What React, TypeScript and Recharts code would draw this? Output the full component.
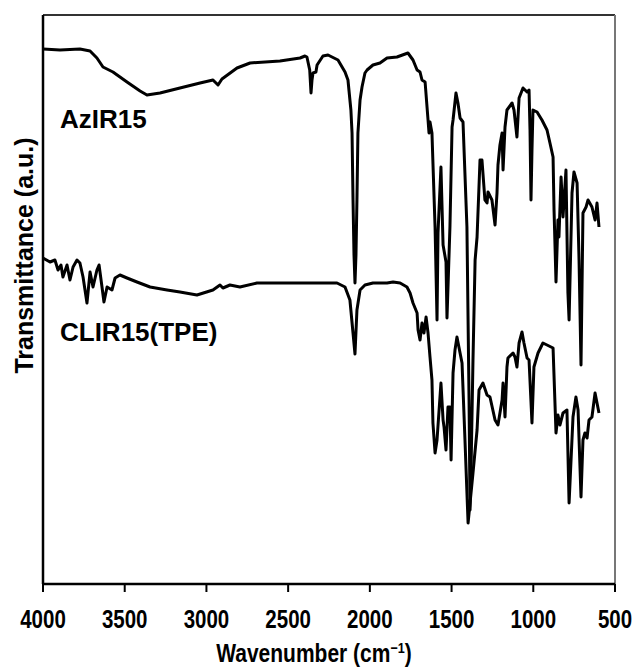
import React from 'react';
import { LineChart, Line, XAxis, YAxis, ReferenceLine, ReferenceDot } from 'recharts';

// AzIR15 spectrum (wavenumber, transmittance a.u.)
const azirWavenumber = [
  4000, 3896, 3774, 3712, 3670, 3633, 3572, 3486, 3406, 3364, 3284, 3162, 3039, 2960, 2929, 2905,
  2813, 2733, 2550, 2427, 2397, 2385, 2368, 2360, 2354, 2348, 2330, 2323, 2287, 2256, 2195, 2152,
  2134, 2116, 2109, 2103, 2097, 2091, 2085, 2079, 2073, 2060, 2048, 2030, 2017, 1981, 1938, 1895,
  1834, 1767, 1736, 1711, 1693, 1681, 1662, 1644, 1638, 1632, 1620, 1601, 1589, 1583, 1565, 1552,
  1534, 1528, 1510, 1497, 1491, 1473, 1461, 1448, 1430, 1406, 1393, 1387, 1381, 1369, 1356, 1344,
  1326, 1314, 1296, 1283, 1277, 1253, 1234, 1222, 1216, 1204, 1191, 1185, 1173, 1161, 1130, 1118,
  1100, 1087, 1063, 1038, 1026, 1020, 1014, 1008, 1002, 977, 947, 916, 898, 879, 873, 861,
  849, 843, 830, 818, 800, 788, 781, 763, 751, 732, 720, 708, 696, 677, 665, 641,
  622, 610, 598,
];
const azirTransmittance = [
  53.5, 53.4, 53.5, 53.3, 52.6, 51.7, 51.2, 50.2, 49.3, 48.9, 49.1, 49.6, 50.1, 50.4, 49.9, 50.5,
  51.6, 52.1, 52.3, 52.6, 52.8, 52.7, 51.4, 49.1, 50.4, 51.1, 51.2, 51.9, 52.8, 52.9, 52.4, 51.2,
  50.4, 47.4, 45.1, 38.4, 32.9, 30.1, 32.9, 38.4, 45.1, 48.4, 49.7, 51.1, 51.4, 51.9, 52.1, 52.6,
  52.7, 53.1, 52.4, 51.4, 51.2, 50.4, 50.2, 46.4, 45.1, 46.2, 45.1, 35.7, 26.4, 35.1, 41.7, 33.9,
  32.2, 26.6, 35.7, 45.7, 46.4, 49.1, 48.1, 46.6, 46.2, 35.7, 18.4, 7.4, 11.4, 22.4, 32.4, 34.7,
  42.4, 42.4, 38.4, 38.1, 39.2, 38.4, 35.9, 39.1, 41.9, 43.9, 45.1, 41.4, 45.7, 47.4, 48.1, 47.4,
  44.7, 48.6, 49.6, 49.2, 49.4, 45.4, 38.4, 43.4, 47.4, 47.2, 46.4, 45.4, 44.1, 42.7, 37.4, 30.2,
  36.4, 34.7, 40.7, 36.7, 41.4, 29.1, 26.4, 39.1, 41.2, 40.1, 32.4, 21.9, 37.1, 37.7, 38.4, 37.7,
  36.4, 38.1, 35.7,
];

// CLIR15(TPE) spectrum
const clirWavenumber = [
  4000, 3957, 3927, 3908, 3890, 3878, 3853, 3835, 3816, 3792, 3774, 3755, 3731, 3712, 3694, 3670,
  3657, 3639, 3627, 3608, 3578, 3559, 3529, 3486, 3425, 3345, 3241, 3162, 3058, 2960, 2917, 2899,
  2856, 2795, 2691, 2531, 2305, 2201, 2152, 2122, 2103, 2091, 2079, 2060, 2030, 1981, 1895, 1858,
  1815, 1773, 1754, 1736, 1711, 1705, 1693, 1681, 1669, 1656, 1644, 1632, 1620, 1614, 1601, 1589,
  1565, 1552, 1546, 1534, 1522, 1510, 1503, 1491, 1479, 1467, 1448, 1436, 1418, 1399, 1369, 1344,
  1332, 1308, 1283, 1265, 1234, 1216, 1191, 1185, 1173, 1161, 1155, 1124, 1112, 1100, 1087, 1069,
  1057, 1038, 1026, 1008, 996, 971, 941, 916, 879, 861, 849, 837, 818, 794, 781, 757,
  739, 726, 708, 696, 684, 671, 659, 641, 622, 610, 598,
];
const clirTransmittance = [
  32.6, 32.2, 32.4, 31.4, 31.9, 30.7, 31.9, 30.4, 31.7, 32.4, 32.1, 30.7, 28.1, 31.2, 29.7, 31.4,
  31.9, 29.7, 28.2, 29.7, 29.4, 30.6, 30.9, 30.6, 30.2, 29.7, 29.4, 29.2, 28.9, 29.4, 29.9, 29.6,
  29.9, 29.7, 30.1, 30.1, 30.1, 30.1, 29.7, 28.4, 25.1, 23.0, 27.4, 29.4, 29.9, 30.1, 30.1, 30.2,
  30.1, 29.7, 29.1, 28.1, 27.1, 25.4, 24.4, 26.1, 25.1, 26.7, 25.1, 22.7, 20.4, 16.1, 13.1, 14.4,
  20.1, 16.4, 15.7, 13.4, 17.7, 17.7, 12.4, 21.1, 23.4, 24.7, 23.1, 22.1, 14.4, 6.1, 11.1, 15.4,
  19.4, 20.1, 18.9, 18.7, 16.4, 15.9, 18.4, 20.1, 16.7, 21.7, 22.6, 23.1, 22.7, 21.7, 24.1, 25.2,
  24.1, 22.6, 22.4, 16.1, 21.7, 23.1, 24.1, 23.9, 23.6, 15.1, 16.9, 15.9, 17.1, 17.4, 8.1, 16.7,
  18.7, 17.4, 8.7, 14.4, 15.1, 14.6, 16.4, 16.7, 19.1, 18.1, 17.1,
];

const xTicks = [4000, 3500, 3000, 2500, 2000, 1500, 1000, 500];
const xDomain = [500, 4000];
const yDomain = [0, 56.9];
const seriesLabels = [
  { text: 'AzIR15', wn: 3896, t: 45.6 },
  { text: 'CLIR15(TPE)', wn: 3896, t: 24.3 },
];

const azirData = azirWavenumber.map((wn, i) => ({ wn, t: azirTransmittance[i] }));
const clirData = clirWavenumber.map((wn, i) => ({ wn, t: clirTransmittance[i] }));

const sansFont = "'Liberation Sans', Arial, Helvetica, sans-serif";

const XTick = (props: any) => {
  const { x, y, payload } = props;
  return (
    <text
      transform={`translate(${x} ${y}) scale(0.82 1)`}
      x={0}
      y={0}
      dy="0.72em"
      textAnchor="middle"
      fontFamily={sansFont}
      fontWeight={700}
      fontSize={25}
      fill="#000"
    >
      {payload.value}
    </text>
  );
};

const YTitle = (props: any) => {
  const vb = props.viewBox || {};
  const cx = vb.x + 25;
  const cy = vb.y + vb.height / 2 - 44;
  return (
    <text
      x={cx}
      y={cy}
      transform={`rotate(-90 ${cx} ${cy})`}
      textAnchor="middle"
      fontFamily={sansFont}
      fontWeight={700}
      fontSize={25}
      fill="#000"
    >
      Transmittance (a.u.)
    </text>
  );
};

const XTitle = (props: any) => {
  const vb = props.viewBox || {};
  const cx = vb.x + vb.width / 2 - 15;
  const cy = vb.y + 78;
  return (
    <text
      transform={`translate(${cx} ${cy}) scale(0.84 1)`}
      x={0}
      y={0}
      textAnchor="middle"
      fontFamily={sansFont}
      fontWeight={700}
      fontSize={25}
      fill="#000"
    >
      Wavenumber (cm
      <tspan dy={-9} fontSize={15}>−1</tspan>
      <tspan dy={9}>)</tspan>
    </text>
  );
};

const makeSeriesLabel = (text: string) => (props: any) => {
  const vb = props.viewBox || {};
  return (
    <text x={vb.x} y={vb.y} textAnchor="start" fontFamily={sansFont} fontWeight={700} fontSize={26} fill="#000">
      {text}
    </text>
  );
};

export default function App() {
  return (
    <div style={{ width: 632, height: 660 }}>
      <LineChart width={632} height={660} margin={{ top: 7, right: 25, bottom: 0, left: 0 }}>
        <XAxis
          dataKey="wn"
          type="number"
          domain={xDomain}
          reversed
          ticks={xTicks}
          interval={0}
          allowDataOverflow
          height={84}
          tickSize={8}
          tickMargin={18}
          axisLine={{ stroke: '#000', strokeWidth: 2.5 }}
          tickLine={{ stroke: '#000', strokeWidth: 2 }}
          tick={(p: any) => <XTick {...p} />}
          label={(p: any) => <XTitle {...p} />}
        />
        <YAxis
          type="number"
          domain={yDomain}
          allowDataOverflow
          width={35}
          tick={false}
          tickLine={false}
          axisLine={{ stroke: '#000', strokeWidth: 2.5 }}
          label={(p: any) => <YTitle {...p} />}
        />
        <ReferenceLine y={yDomain[1]} stroke="#333" strokeWidth={2} ifOverflow="visible" />
        <ReferenceLine x={xDomain[0]} stroke="#777" strokeWidth={2} ifOverflow="visible" />
        <Line
          data={azirData}
          dataKey="t"
          type="linear"
          stroke="#000"
          strokeWidth={3}
          dot={false}
          activeDot={false}
          isAnimationActive={false}
          strokeLinejoin="round"
        />
        <Line
          data={clirData}
          dataKey="t"
          type="linear"
          stroke="#000"
          strokeWidth={3}
          dot={false}
          activeDot={false}
          isAnimationActive={false}
          strokeLinejoin="round"
        />
        {seriesLabels.map((s) => (
          <ReferenceDot
            key={s.text}
            x={s.wn}
            y={s.t}
            r={0}
            fill="none"
            stroke="none"
            ifOverflow="visible"
            label={makeSeriesLabel(s.text)}
          />
        ))}
      </LineChart>
    </div>
  );
}
